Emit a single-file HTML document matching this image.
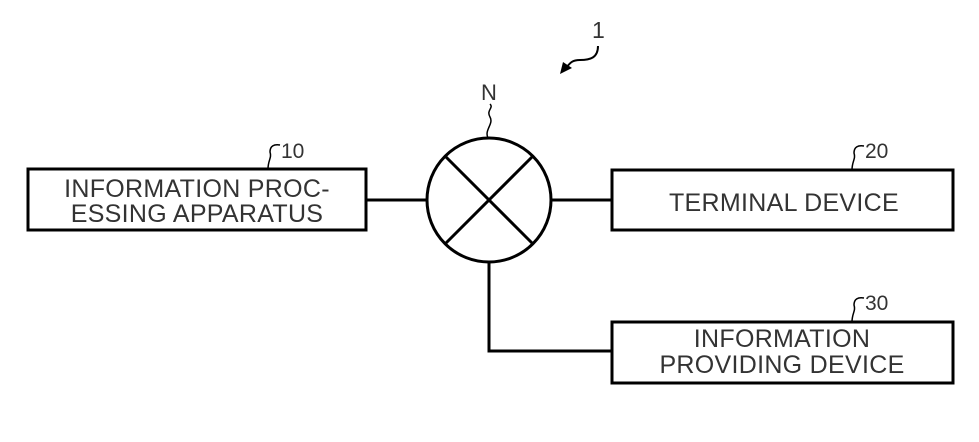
<!DOCTYPE html>
<html><head><style>
html,body{margin:0;padding:0;background:#fff;}
svg{display:block;}
text{font-family:"Liberation Sans",sans-serif;fill:#333;}
</style></head><body>
<svg width="979" height="442" viewBox="0 0 979 442" xmlns="http://www.w3.org/2000/svg">
<g stroke="#000" stroke-width="3" fill="none">
<rect x="28" y="169" width="338" height="61"/>
<rect x="612" y="170" width="341" height="60"/>
<rect x="612" y="322" width="341" height="61"/>
<circle cx="489" cy="200" r="62"/>
<line x1="445" y1="156" x2="533" y2="244"/>
<line x1="533" y1="156" x2="445" y2="244"/>
<line x1="366" y1="200" x2="427" y2="200"/>
<line x1="551" y1="200" x2="612" y2="200"/>
<polyline points="489,262 489,351 612,351"/>
</g>
<g stroke="#000" stroke-width="1.5" fill="none">
<path d="M488,138 C484,130 494,124 490,117 C486,110 494,108 490,104"/>
<path d="M268,169 C268,160 272,158 270,152 C270,146 274,144 280,145"/>
<path d="M852,170 C852,161 856,159 854,153 C854,147 858,145 864,146"/>
<path d="M852,322 C852,313 856,311 854,305 C854,299 858,297 864,298"/>
<path d="M598,46 C598,58 590,60 580,60 C572,60 570,63 566,68" stroke-width="2"/>
</g>
<polygon points="560,74 563,62 572,68" fill="#000"/>
<text x="592" y="38" font-size="23">1</text>
<text x="481" y="100" font-size="22">N</text>
<text x="281" y="158" font-size="21">10</text>
<text x="865" y="158" font-size="21">20</text>
<text x="865" y="310" font-size="21">30</text>
<g font-size="25" text-anchor="middle" letter-spacing="0.3">
<text x="197" y="197">INFORMATION PROC-</text>
<text x="197" y="222">ESSING APPARATUS</text>
<text x="784" y="211">TERMINAL DEVICE</text>
<text x="782" y="347">INFORMATION</text>
<text x="782" y="373">PROVIDING DEVICE</text>
</g>
</svg>
</body></html>
